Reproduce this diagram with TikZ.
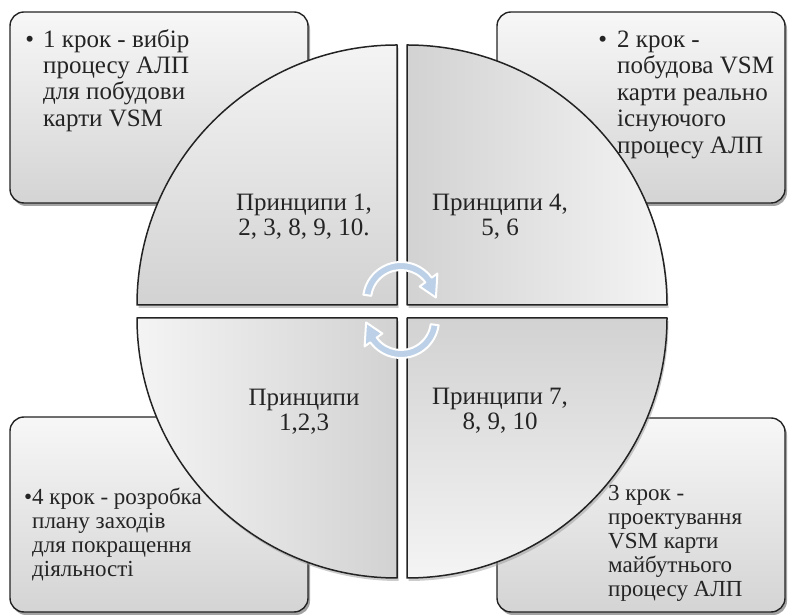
\documentclass[tikz,border=0pt]{standalone}
\usepackage{fontspec}
\setmainfont{Liberation Serif}
\usetikzlibrary{shadows,calc}

\definecolor{edge}{RGB}{35,35,35}
\definecolor{boxlight}{RGB}{247,247,247}
\definecolor{boxdark}{RGB}{212,212,212}
\definecolor{qlight}{RGB}{244,244,244}
\definecolor{qdark}{RGB}{210,210,210}
\definecolor{arrowblue}{RGB}{188,208,231}
\definecolor{ink}{RGB}{36,36,36}

\tikzset{
  x=1pt, y=1pt,
  stepcard/.style={rectangle, rounded corners=14pt, draw=edge, line width=1.4pt,
    top color=boxlight, bottom color=boxdark, inner sep=0pt,
    drop shadow={shadow xshift=2pt, shadow yshift=-3pt, fill=black!60, opacity=0.6}},
  cardtext/.style={anchor=north west, inner sep=0pt, align=left, text=ink},
  bigtext/.style={font=\fontsize{25}{26.3}\selectfont},
  smalltext/.style={font=\fontsize{23}{24}\selectfont},
  quarter/.style={draw=edge, line width=1.5pt, line join=round,
    drop shadow={shadow xshift=1.5pt, shadow yshift=-3pt, fill=black!40, opacity=0.5}},
  principle/.style={anchor=north, inner sep=0pt, align=center, text=ink,
    font=\fontsize{25}{25.5}\selectfont},
  cyclearrow/.style={fill=arrowblue, draw=white, line width=2pt, line join=round}
}

\begin{document}
\begin{tikzpicture}
\useasboundingbox (0,0) rectangle (789,615);

% step cards in the four corners
\node[stepcard, minimum width=298, minimum height=191] (card1) at (159,507.5) {};
\node[stepcard, minimum width=288, minimum height=191] (card2) at (641,507.5) {};
\node[stepcard, minimum width=298, minimum height=195] (card4) at (159,100.5) {};
\node[stepcard, minimum width=288, minimum height=194] (card3) at (641,100) {};

\node[cardtext, bigtext] (text1) at (43,588)
  {\llap{•\hspace{9pt}}\rule{0pt}{20pt}1 крок - вибір\\процесу АЛП\\для побудови\\карти VSM};
\node[cardtext, font=\fontsize{25}{26.5}\selectfont] (text2) at (617,588)
  {\llap{•\hspace{10pt}}\rule{0pt}{20pt}2 крок -\\побудова VSM\\карти реально\\існуючого\\процесу АЛП};
\node[cardtext, smalltext] (text4) at (32,131)
  {\llap{•}\rule{0pt}{20pt}4 крок - розробка\\плану заходів\\для покращення\\діяльності};
\node[cardtext, smalltext] (text3) at (608,135)
  {\rule{0pt}{20pt}3 крок -\\проектування\\VSM карти\\майбутнього\\процесу АЛП};

% the split disc
\path[quarter, top color=qlight, bottom color=qdark]
  (397,310) -- (137,310) arc[start angle=180, end angle=90, radius=260] -- cycle;
\path[quarter, left color=qdark, right color=qlight]
  (407,310) -- (407,570) arc[start angle=90, end angle=0, radius=260] -- cycle;
\path[quarter, left color=qlight, right color=qdark]
  (397,297) -- (137,297) arc[start angle=180, end angle=270, radius=260] -- cycle;
\path[quarter, top color=qdark, bottom color=qlight]
  (407,297) -- (407,37) arc[start angle=270, end angle=360, radius=260] -- cycle;

\node[principle] (p1) at (304,425) {\rule{0pt}{20pt}Принципи 1,\\2, 3, 8, 9, 10.};
\node[principle] (p2) at (500,425) {\rule{0pt}{20pt}Принципи 4,\\5, 6};
\node[principle] (p4) at (304,230) {\rule{0pt}{20pt}Принципи\\1,2,3};
\node[principle] (p3) at (500,231) {\rule{0pt}{20pt}Принципи 7,\\8, 9, 10};

% circular arrows in the middle
\coordinate (upc) at (401,315);
\coordinate (loc) at (401,295);
\path[cyclearrow]
  ($(upc)+(172:38)$) arc[start angle=172, end angle=36, radius=38]
  -- ($(upc)+(36:45)$) -- ($(upc)+(4:35)$) -- ($(upc)+(36:23)$)
  -- ($(upc)+(36:30)$) arc[start angle=36, end angle=172, radius=30] -- cycle;
\path[cyclearrow]
  ($(loc)+(-8:38)$) arc[start angle=-8, end angle=-144, radius=38]
  -- ($(loc)+(-144:45)$) -- ($(loc)+(-176:35)$) -- ($(loc)+(-144:23)$)
  -- ($(loc)+(-144:30)$) arc[start angle=-144, end angle=-8, radius=30] -- cycle;
\end{tikzpicture}
\end{document}
